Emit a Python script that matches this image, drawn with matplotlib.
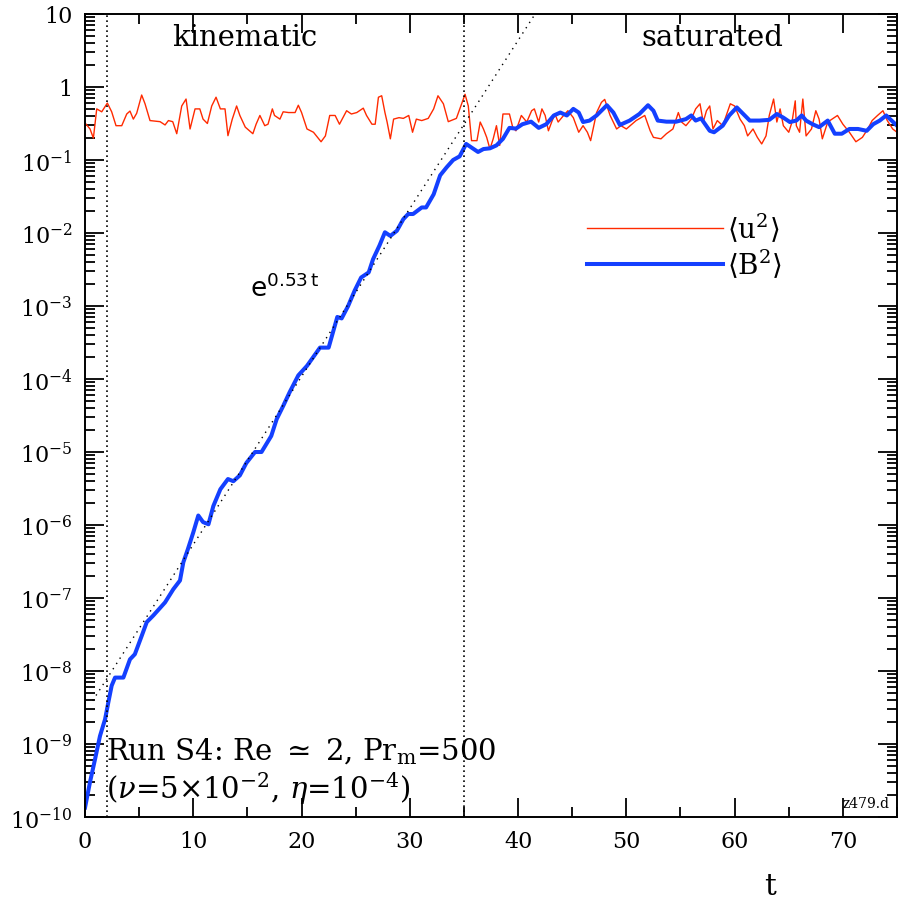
"""Kinematic and saturated growth of <u^2> and <B^2> for run S4."""

import matplotlib

matplotlib.use("Agg")
import matplotlib.pyplot as plt
import numpy as np
from matplotlib.ticker import FixedLocator, FuncFormatter, LogLocator, MultipleLocator

plt.rcParams["font.family"] = "DejaVu Serif"
plt.rcParams["mathtext.fontset"] = "dejavuserif"

# <B^2>: time and log10 of the value
b_time = [0.0, 0.46, 0.92, 1.38, 1.85, 2.15, 2.46, 2.77, 3.54, 4.15, 4.6, 5.23, 5.7, 6.3,
          7.39, 8.15, 8.77, 9.08, 9.5, 10.0, 10.46, 10.9, 11.4, 11.85, 12.5, 13.2, 13.7,
          14.3, 14.9, 15.7, 16.3, 17.2, 17.7, 18.3, 18.9, 19.7, 20.5, 21.7, 22.5, 22.9,
          23.3, 23.7, 24.3, 24.9, 25.5, 26.2, 26.6, 27.2, 27.7, 28.2, 28.8, 29.4, 29.85,
          30.3, 31.1, 31.5, 32.2, 32.8, 33.4, 34.0, 34.6, 35.2, 35.7, 36.3, 36.8, 37.4,
          38.0, 38.6, 39.2, 39.8, 40.4, 41.2, 41.9, 42.6, 43.3, 43.9, 44.5, 45.1, 45.6,
          46.0, 46.6, 47.25, 48.2, 48.8, 49.4, 50.3, 51.2, 52.0, 52.5, 52.9, 53.7, 54.6,
          55.5, 56.0, 56.4, 56.9, 57.7, 58.1, 58.9, 59.5, 60.2, 60.8, 61.4, 62.3, 63.2,
          63.9, 64.5, 65.1, 65.7, 66.2, 66.6, 67.2, 67.8, 68.6, 69.25, 69.9, 70.6, 71.4,
          72.2, 72.8, 73.4, 74.0, 74.5, 75.0]
b_log = [-9.87, -9.52, -9.21, -8.89, -8.66, -8.43, -8.2, -8.09, -8.09, -7.84, -7.77, -7.52,
         -7.33, -7.24, -7.06, -6.88, -6.76, -6.51, -6.33, -6.10, -5.87, -5.96, -5.99, -5.74,
         -5.51, -5.37, -5.40, -5.32, -5.15, -5.00, -5.00, -4.78, -4.55, -4.37, -4.18, -3.95,
         -3.82, -3.57, -3.57, -3.36, -3.15, -3.17, -3.0, -2.79, -2.61, -2.54, -2.36, -2.17,
         -1.99, -2.04, -1.97, -1.81, -1.74, -1.74, -1.65, -1.65, -1.47, -1.21, -1.10, -1.0,
         -0.95, -0.78, -0.83, -0.89, -0.85, -0.84, -0.80, -0.71, -0.56, -0.57, -0.51, -0.475,
         -0.56, -0.51, -0.39, -0.35, -0.39, -0.30, -0.35, -0.48, -0.46, -0.39, -0.25, -0.35,
         -0.52, -0.46, -0.37, -0.25, -0.325, -0.46, -0.475, -0.475, -0.44, -0.39, -0.46,
         -0.43, -0.60, -0.62, -0.53, -0.39, -0.28, -0.37, -0.46, -0.46, -0.45, -0.37, -0.42,
         -0.48, -0.46, -0.39, -0.46, -0.51, -0.55, -0.46, -0.64, -0.64, -0.575, -0.575,
         -0.60, -0.51, -0.46, -0.39, -0.46, -0.53]

# <u^2>: time and log10 of the value
u_time = [0.1, 0.46, 0.77, 1.08, 1.54, 2.06, 2.46, 2.86, 3.39, 3.85, 4.15, 4.46, 4.77, 5.23,
          5.54, 6.0, 6.93, 7.39, 7.7, 8.1, 8.47, 8.93, 9.33, 9.7, 10.16, 10.6, 10.9, 11.3,
          11.7, 12.1, 12.5, 12.93, 13.2, 13.6, 14.0, 14.3, 14.8, 15.5, 15.8, 16.15, 16.6,
          16.9, 17.3, 17.5, 18.0, 18.3, 18.8, 19.4, 19.7, 20.0, 20.5, 21.1, 21.8, 22.2, 22.6,
          23.1, 23.5, 24.16, 24.6, 25.1, 25.7, 26.0, 26.5, 26.8, 27.1, 27.4, 27.7, 27.9,
          28.2, 28.5, 29.0, 29.4, 29.9, 30.25, 30.6, 31.1, 31.7, 32.2, 32.6, 33.1, 33.55,
          34.3, 35.1, 35.4, 35.7, 36.2, 36.5, 36.8, 37.1, 37.4, 37.7, 38.0, 38.3, 38.6, 39.2,
          39.5, 39.8, 40.3, 40.8, 41.25, 41.5, 41.9, 42.2, 42.5, 42.8, 43.1, 43.4, 43.7,
          44.2, 44.6, 45.1, 45.6, 46.0, 46.4, 46.7, 47.25, 47.7, 48.0, 48.5, 49.1, 49.5,
          50.0, 50.9, 51.7, 52.2, 52.5, 53.2, 53.7, 54.3, 54.8, 55.1, 55.5, 56.0, 56.4, 56.8,
          57.1, 57.4, 57.7, 58.0, 58.4, 58.9, 59.6, 60.0, 60.5, 60.9, 61.2, 61.7, 62.1, 62.5,
          62.9, 63.2, 63.6, 63.9, 64.2, 64.5, 65.0, 65.3, 65.6, 65.7, 66.0, 66.3, 66.6, 67.1,
          67.5, 67.8, 68.1, 68.6, 69.0, 69.5, 70.0, 70.6, 71.2, 71.8, 72.3, 72.7, 73.2, 73.7,
          74.1, 74.6, 75.0]
u_log = [-0.51, -0.575, -0.70, -0.30, -0.34, -0.22, -0.34, -0.53, -0.53, -0.37, -0.33, -0.44,
         -0.36, -0.11, -0.23, -0.46, -0.475, -0.52, -0.46, -0.475, -0.64, -0.26, -0.165,
         -0.575, -0.30, -0.30, -0.44, -0.50, -0.26, -0.14, -0.30, -0.30, -0.667, -0.44, -0.26,
         -0.39, -0.55, -0.64, -0.51, -0.39, -0.53, -0.51, -0.30, -0.39, -0.44, -0.34, -0.35,
         -0.35, -0.25, -0.35, -0.575, -0.62, -0.75, -0.67, -0.39, -0.39, -0.51, -0.325, -0.37,
         -0.35, -0.29, -0.39, -0.51, -0.51, -0.14, -0.12, -0.35, -0.48, -0.71, -0.44, -0.42,
         -0.43, -0.39, -0.62, -0.44, -0.46, -0.43, -0.30, -0.12, -0.23, -0.475, -0.43, -0.10,
         -0.26, -0.735, -0.735, -0.48, -0.575, -0.69, -0.85, -0.71, -0.53, -0.80, -0.37,
         -0.37, -0.55, -0.60, -0.39, -0.48, -0.325, -0.30, -0.48, -0.30, -0.39, -0.60, -0.48,
         -0.37, -0.48, -0.39, -0.325, -0.42, -0.62, -0.53, -0.62, -0.735, -0.35, -0.21, -0.17,
         -0.39, -0.575, -0.53, -0.575, -0.46, -0.39, -0.60, -0.69, -0.71, -0.64, -0.575,
         -0.35, -0.48, -0.53, -0.44, -0.30, -0.23, -0.48, -0.325, -0.26, -0.575, -0.46, -0.53,
         -0.23, -0.26, -0.44, -0.53, -0.67, -0.575, -0.69, -0.78, -0.67, -0.39, -0.165, -0.48,
         -0.30, -0.53, -0.62, -0.48, -0.19, -0.53, -0.62, -0.165, -0.67, -0.575, -0.325,
         -0.44, -0.71, -0.48, -0.44, -0.39, -0.51, -0.62, -0.75, -0.69, -0.575, -0.46, -0.39,
         -0.325, -0.46, -0.575, -0.62]

# exponential fit exp(0.53 t) and phase boundaries
growth_rate = 0.53
fit_amplitude = 2.7e-9
fit_range = (0.7, 42.0)
phase_bounds = [2.0, 35.0]
y_decades = list(range(-10, 2))


def log_label(value, pos):
    exp = int(round(np.log10(value)))
    if exp == 0:
        return "1"
    if exp == 1:
        return "10"
    return rf"$10^{{{exp}}}$"


def main():
    fig = plt.figure(figsize=(8.99, 9.03), dpi=100)
    ax = fig.add_axes([0.0946, 0.0941, 0.9032, 0.8893])

    ax.plot(u_time, 10 ** np.array(u_log), color="#ff2a00", lw=1.0, label=r"$\langle\mathrm{u}^2\rangle$")
    ax.plot(b_time, 10 ** np.array(b_log), color="#1440ff", lw=2.9, label=r"$\langle\mathrm{B}^2\rangle$")

    t_fit = np.linspace(*fit_range, 200)
    ax.plot(t_fit, fit_amplitude * np.exp(growth_rate * t_fit), color="black", lw=1.0,
            ls=(0, (1, 3.5)))
    for tb in phase_bounds:
        ax.axvline(tb, color="black", lw=1.2, ls=(0, (1, 2)))

    ax.set_yscale("log")
    ax.set_xlim(0, 75)
    ax.set_ylim(1e-10, 10)

    ax.xaxis.set_major_locator(MultipleLocator(10))
    ax.xaxis.set_minor_locator(MultipleLocator(5))
    ax.yaxis.set_major_locator(FixedLocator([10.0 ** d for d in y_decades]))
    ax.yaxis.set_minor_locator(LogLocator(base=10, subs=np.arange(2, 10), numticks=20))
    ax.yaxis.set_major_formatter(FuncFormatter(log_label))
    ax.yaxis.set_minor_formatter(FuncFormatter(lambda v, p: ""))

    ax.tick_params(which="both", direction="in", top=True, right=True, width=1.3,
                   labelsize=16, pad=9)
    ax.tick_params(which="major", length=14)
    ax.tick_params(which="minor", length=7)
    for spine in ax.spines.values():
        spine.set_linewidth(1.4)

    ax.set_xlabel("t", fontsize=21)
    ax.xaxis.set_label_coords(0.844, -0.068)

    ax.text(0.197, 0.971, "kinematic", transform=ax.transAxes, ha="center", va="center", fontsize=21)
    ax.text(0.772, 0.971, "saturated", transform=ax.transAxes, ha="center", va="center", fontsize=21)
    ax.text(0.203, 0.66, r"$\mathsf{e}^{\mathbf{\mathsf{0.53\,t}}}$", transform=ax.transAxes,
            ha="left", va="center", fontsize=19)
    ax.text(0.026, 0.082, r"Run S4: Re$\,\,\simeq\,\,$2, Pr$_\mathrm{m}$=500", transform=ax.transAxes,
            ha="left", va="center", fontsize=21)
    ax.text(0.026, 0.037, r"($\nu$=5$\times$10$^{-2}$, $\eta$=10$^{-4}$)", transform=ax.transAxes,
            ha="left", va="center", fontsize=21)
    ax.text(0.991, 0.009, "z479.d", transform=ax.transAxes, ha="right", va="bottom", fontsize=10)

    ax.legend(loc="upper left", bbox_to_anchor=(0.618, 0.755), frameon=False, fontsize=20,
              handlelength=4.9, handletextpad=0.15, labelspacing=0.1, borderpad=0,
              borderaxespad=0)

    fig.savefig("out.png", dpi=100)
    plt.close(fig)


if __name__ == "__main__":
    main()
